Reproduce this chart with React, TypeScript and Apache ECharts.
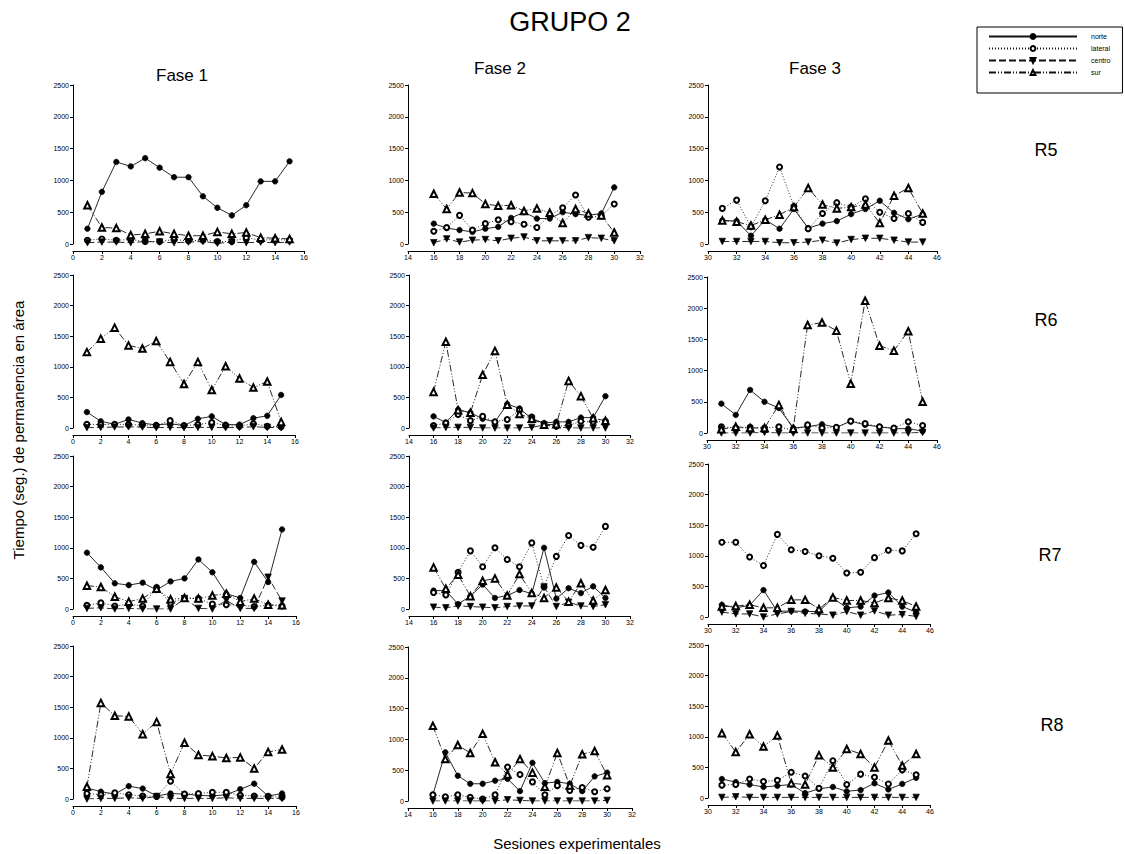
import React, { useEffect, useRef } from 'react';
import * as echarts from 'echarts';

// Sessions (x values) for each phase
const sessionsF1 = [1, 2, 3, 4, 5, 6, 7, 8, 9, 10, 11, 12, 13, 14, 15];
const sessionsF2 = [16, 17, 18, 19, 20, 21, 22, 23, 24, 25, 26, 27, 28, 29, 30];
const sessionsF3 = [31, 32, 33, 34, 35, 36, 37, 38, 39, 40, 41, 42, 43, 44, 45];

const rats = ['R5', 'R6', 'R7', 'R8'];
const phases = ['Fase 1', 'Fase 2', 'Fase 3'];
const zones = ['norte', 'lateral', 'centro', 'sur'];
const yTicks = [0, 500, 1000, 1500, 2000, 2500];

// R5
const r5f1Norte = [240, 820, 1290, 1220, 1350, 1200, 1050, 1050, 750, 570, 450, 610, 985, 985, 1300];
const r5f1Lateral = [60, 80, 60, 70, 40, 40, 70, 50, 60, 40, 40, 100, 60, 70, 60];
const r5f1Centro = [20, 30, 30, 20, 40, 30, 20, 30, 40, 10, 30, 20, 30, 20, 30];
const r5f1Sur = [610, 260, 250, 140, 160, 200, 160, 130, 130, 190, 160, 180, 100, 90, 80];
const r5f2Norte = [320, 250, 220, 190, 240, 270, 410, 500, 400, 400, 500, 470, 450, 480, 890];
const r5f2Lateral = [200, 260, 450, 220, 320, 380, 350, 310, 260, 450, 570, 770, 420, 440, 630];
const r5f2Centro = [20, 80, 30, 60, 70, 50, 90, 110, 50, 50, 50, 50, 100, 90, 50];
const r5f2Sur = [790, 550, 810, 800, 630, 600, 610, 520, 560, 490, 330, 550, 480, 450, 180];
const r5f3Norte = [370, 360, 130, 380, 240, 550, 250, 320, 360, 470, 550, 680, 490, 390, 470];
const r5f3Lateral = [560, 690, 270, 680, 1210, 590, 240, 480, 650, 580, 710, 500, 400, 480, 340];
const r5f3Centro = [40, 40, 40, 40, 20, 20, 30, 60, 15, 70, 90, 90, 60, 30, 30];
const r5f3Sur = [370, 350, 290, 380, 460, 580, 880, 620, 560, 580, 620, 330, 760, 880, 480];

// R6
const r6f1Norte = [260, 110, 60, 140, 80, 50, 70, 40, 150, 190, 55, 55, 160, 200, 540];
const r6f1Lateral = [60, 55, 60, 55, 50, 40, 120, 40, 55, 90, 40, 30, 70, 30, 20];
const r6f1Centro = [5, 10, 15, 20, 15, 5, 10, 5, 10, 10, 5, 10, 20, 10, 5];
const r6f1Sur = [1240, 1460, 1640, 1350, 1300, 1420, 1080, 720, 1080, 620, 1010, 810, 660, 760, 100];
const r6f2Norte = [190, 90, 300, 250, 150, 100, 390, 320, 150, 80, 100, 100, 170, 170, 520];
const r6f2Lateral = [40, 80, 220, 120, 190, 100, 140, 290, 180, 50, 30, 40, 110, 100, 110];
const r6f2Centro = [0, 10, 10, 10, 0, 0, 0, 0, 10, 50, 20, 0, 0, 0, 0];
const r6f2Sur = [590, 1410, 290, 250, 870, 1260, 380, 230, 150, 55, 60, 770, 520, 160, 120];
const r6f3Norte = [470, 290, 690, 500, 400, 80, 100, 140, 90, 190, 130, 100, 70, 70, 30];
const r6f3Lateral = [100, 80, 90, 80, 100, 40, 130, 80, 90, 190, 150, 100, 80, 180, 120];
const r6f3Centro = [0, 0, 0, 10, 0, 0, 0, 0, 0, 0, 0, 0, 0, 0, 10];
const r6f3Sur = [60, 100, 80, 80, 450, 70, 1730, 1770, 1640, 790, 2120, 1400, 1320, 1630, 500];

// R7
const r7f1Norte = [920, 680, 420, 390, 430, 310, 450, 500, 810, 600, 250, 180, 770, 440, 1300];
const r7f1Lateral = [60, 100, 50, 80, 50, 350, 100, 180, 170, 80, 70, 60, 40, 60, 50];
const r7f1Centro = [10, 20, 0, 10, 0, 0, 0, 170, 10, 0, 140, 10, 10, 520, 130];
const r7f1Sur = [380, 360, 200, 120, 170, 330, 160, 180, 170, 220, 250, 120, 170, 70, 60];
const r7f2Norte = [300, 300, 80, 210, 400, 180, 220, 310, 250, 1000, 170, 340, 260, 370, 180];
const r7f2Lateral = [270, 230, 600, 950, 690, 1000, 810, 690, 1080, 360, 860, 1200, 1040, 1010, 1350];
const r7f2Centro = [30, 20, 50, 40, 30, 20, 40, 50, 50, 360, 40, 110, 50, 40, 70];
const r7f2Sur = [680, 330, 560, 210, 460, 500, 220, 570, 260, 180, 350, 120, 420, 140, 310];
const r7f3Norte = [200, 150, 190, 440, 90, 100, 90, 90, 310, 150, 170, 350, 400, 170, 80];
const r7f3Lateral = [1220, 1220, 980, 840, 1350, 1100, 1070, 1000, 960, 720, 730, 970, 1090, 1080, 1360];
const r7f3Centro = [80, 50, 50, 0, 50, 90, 60, 50, 30, 90, 30, 100, 30, 40, 10];
const r7f3Sur = [170, 180, 200, 150, 150, 280, 280, 130, 320, 270, 270, 230, 310, 270, 170];

// R8
const r8f1Norte = [180, 120, 80, 210, 170, 50, 90, 80, 60, 50, 70, 160, 250, 50, 90];
const r8f1Lateral = [90, 70, 100, 70, 50, 40, 290, 80, 90, 110, 110, 60, 50, 40, 30];
const r8f1Centro = [0, 10, 10, 20, 10, 40, 10, 10, 10, 10, 20, 10, 10, 10, 10];
const r8f1Sur = [200, 1570, 1360, 1350, 1060, 1260, 410, 920, 720, 700, 670, 680, 500, 770, 810];
const r8f2Norte = [100, 790, 410, 280, 280, 330, 360, 160, 620, 290, 310, 280, 160, 400, 460];
const r8f2Lateral = [100, 70, 100, 60, 30, 100, 550, 430, 310, 100, 250, 170, 220, 150, 200];
const r8f2Centro = [0, 0, 0, 0, 0, 0, 20, 10, 0, 0, 0, 0, 0, 0, 10];
const r8f2Sur = [1220, 680, 910, 780, 1090, 630, 430, 680, 460, 230, 780, 250, 760, 810, 420];
const r8f3Norte = [310, 260, 220, 180, 200, 220, 80, 150, 180, 110, 130, 240, 140, 230, 330];
const r8f3Lateral = [210, 220, 310, 270, 290, 420, 360, 160, 610, 220, 390, 340, 230, 460, 380];
const r8f3Centro = [10, 20, 10, 10, 10, 10, 10, 10, 10, 10, 10, 10, 10, 10, 10];
const r8f3Sur = [1060, 750, 1040, 840, 1020, 240, 220, 700, 500, 800, 720, 500, 940, 530, 720];

// Table built from the arrays: [rat][phase][zone]
const table = [
  [[r5f1Norte, r5f1Lateral, r5f1Centro, r5f1Sur], [r5f2Norte, r5f2Lateral, r5f2Centro, r5f2Sur], [r5f3Norte, r5f3Lateral, r5f3Centro, r5f3Sur]],
  [[r6f1Norte, r6f1Lateral, r6f1Centro, r6f1Sur], [r6f2Norte, r6f2Lateral, r6f2Centro, r6f2Sur], [r6f3Norte, r6f3Lateral, r6f3Centro, r6f3Sur]],
  [[r7f1Norte, r7f1Lateral, r7f1Centro, r7f1Sur], [r7f2Norte, r7f2Lateral, r7f2Centro, r7f2Sur], [r7f3Norte, r7f3Lateral, r7f3Centro, r7f3Sur]],
  [[r8f1Norte, r8f1Lateral, r8f1Centro, r8f1Sur], [r8f2Norte, r8f2Lateral, r8f2Centro, r8f2Sur], [r8f3Norte, r8f3Lateral, r8f3Centro, r8f3Sur]],
];
const sessions = [sessionsF1, sessionsF2, sessionsF3];

// Layout (pixels)
const xRanges = [[0, 16], [14, 32], [30, 46]];
const panelLeftWidth = [
  [[73, 231], [408, 232], [708, 229]],
  [[73, 222], [409, 221], [707, 230]],
  [[73, 223], [409, 221], [708, 222]],
  [[73, 223], [408, 224], [708, 222]],
];
const panelTopHeight = [
  [[85, 159], [85, 159], [85, 159]],
  [[275, 153], [275, 153], [277, 156]],
  [[456, 153], [456, 153], [464, 153]],
  [[646, 153], [647, 154], [645, 153]],
];
const ratLabelPos = [[1046, 150], [1046, 320], [1050, 555], [1052, 725]];
const phaseLabelPos = [[182, 75], [500, 68], [815, 68]];

const FONT = '"Liberation Sans", Arial, sans-serif';

const zoneStyles: any[] = [
  { symbol: 'circle', symbolSize: 5.5, symbolRotate: 0, line: 'solid' },
  { symbol: 'emptyCircle', symbolSize: 5, symbolRotate: 0, line: [1, 2] },
  { symbol: 'triangle', symbolSize: 6.5, symbolRotate: 180, line: [7, 3] },
  { symbol: 'emptyTriangle', symbolSize: 6.5, symbolRotate: 0, line: [7, 2, 1, 2, 1, 2] },
];

export default function App() {
  const ref = useRef<HTMLDivElement>(null);
  useEffect(() => {
    if (!ref.current) return;
    const chart = echarts.init(ref.current, undefined, { renderer: 'svg' });
    const grid: any[] = [];
    const xAxis: any[] = [];
    const yAxis: any[] = [];
    const series: any[] = [];
    const fmt = (v: number) => String(v);
    rats.forEach((rat, r) => {
      phases.forEach((ph, f) => {
        const gi = r * 3 + f;
        const [left, width] = panelLeftWidth[r][f];
        const [top, height] = panelTopHeight[r][f];
        grid.push({ left, top, width, height, containLabel: false });
        xAxis.push({
          gridIndex: gi,
          type: 'value',
          min: xRanges[f][0],
          max: xRanges[f][1],
          interval: 2,
          offset: 7,
          axisLine: { show: true, onZero: false, lineStyle: { color: '#000', width: 1 } },
          axisTick: { show: true, length: 3, lineStyle: { color: '#000', width: 1 } },
          axisLabel: { fontSize: 7, color: '#000', margin: 3, fontFamily: FONT, formatter: fmt },
          splitLine: { show: false },
        });
        yAxis.push({
          gridIndex: gi,
          type: 'value',
          min: yTicks[0],
          max: yTicks[yTicks.length - 1],
          interval: 500,
          axisLine: { show: true, lineStyle: { color: '#000', width: 1 } },
          axisTick: { show: true, length: 3, lineStyle: { color: '#000', width: 1 } },
          axisLabel: { fontSize: 7, color: '#000', margin: 4, fontFamily: FONT, formatter: fmt },
          splitLine: { show: false },
        });
        zones.forEach((z, zi) => {
          const st = zoneStyles[zi];
          const vals = table[r][f][zi];
          series.push({
            name: z,
            type: 'line',
            xAxisIndex: gi,
            yAxisIndex: gi,
            data: vals.map((v, k) => [sessions[f][k], v]),
            symbol: st.symbol,
            symbolSize: st.symbolSize,
            symbolRotate: st.symbolRotate,
            showAllSymbol: true,
            itemStyle: { color: '#000', borderColor: '#000', borderWidth: 0.7 },
            lineStyle: { color: '#111', width: 0.9, type: st.line },
            emphasis: { disabled: true },
            z: 2 + zi,
          });
        });
      });
    });

    const graphic: any[] = [
      { type: 'text', x: 570, y: 22, style: { text: 'GRUPO 2', fontSize: 27, fontFamily: FONT, fill: '#000', align: 'center', verticalAlign: 'middle' } },
      { type: 'text', x: 577, y: 843, style: { text: 'Sesiones experimentales', fontSize: 15, fontFamily: FONT, fill: '#000', align: 'center', verticalAlign: 'middle' } },
      { type: 'text', x: 18, y: 430, rotation: Math.PI / 2, style: { text: 'Tiempo (seg.) de permanencia en área', fontSize: 15, fontFamily: FONT, fill: '#000', align: 'center', verticalAlign: 'middle' } },
    ];
    phases.forEach((ph, f) => {
      graphic.push({ type: 'text', x: phaseLabelPos[f][0], y: phaseLabelPos[f][1], style: { text: ph, fontSize: 17, fontFamily: FONT, fill: '#000', align: 'center', verticalAlign: 'middle' } });
    });
    rats.forEach((rat, r) => {
      graphic.push({ type: 'text', x: ratLabelPos[r][0], y: ratLabelPos[r][1], style: { text: rat, fontSize: 18, fontFamily: FONT, fill: '#000', align: 'center', verticalAlign: 'middle' } });
    });

    chart.setOption({
      animation: false,
      backgroundColor: '#fff',
      textStyle: { fontFamily: FONT },
      grid,
      xAxis,
      yAxis,
      series,
      graphic,
      legend: {
        data: zones,
        orient: 'vertical',
        left: 977,
        top: 27,
        itemWidth: 88,
        itemHeight: 6,
        itemGap: 5,
        padding: [6, 12, 17, 11],
        borderColor: '#000',
        borderWidth: 1,
        selectedMode: false,
        textStyle: { fontSize: 7, color: '#000', fontFamily: FONT, padding: [0, 0, 0, 9] },
      },
    });
    return () => chart.dispose();
  }, []);
  return (
    <div style={{ position: 'absolute', left: 0, top: 0, width: 1125, height: 854 }}>
      <div ref={ref} style={{ width: 1125, height: 854 }} />
    </div>
  );
}
